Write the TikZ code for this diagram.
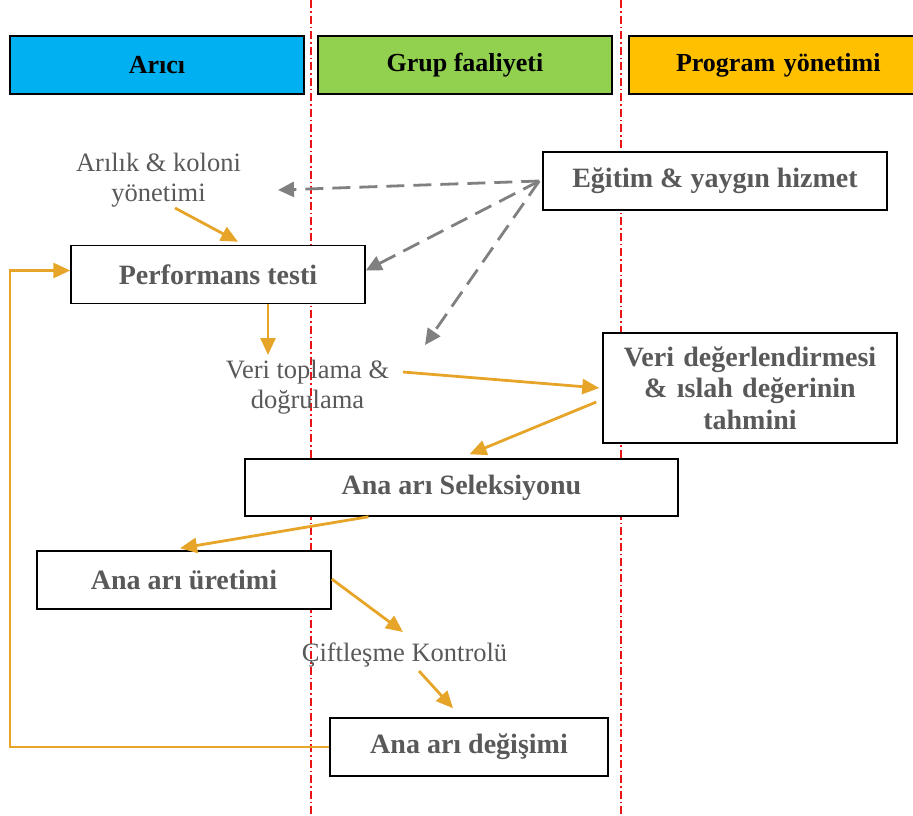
\documentclass[tikz,border=0pt]{standalone}
\usepackage{fontspec}
\setmainfont{Liberation Serif}
\usetikzlibrary{arrows.meta}
\definecolor{txtgray}{HTML}{595959}
\definecolor{arrgold}{RGB}{230,165,40}
\definecolor{dashgray}{HTML}{808080}
\definecolor{hblue}{HTML}{00B0F0}
\definecolor{hgreen}{HTML}{92D050}
\definecolor{horange}{HTML}{FFC000}
\definecolor{lanered}{RGB}{235,20,20}
\tikzset{
  hdr/.style={draw=black, line width=1.5pt, minimum height=58pt, inner sep=0pt,
    font=\fontsize{26}{30}\selectfont\bfseries, text=black},
  box/.style={draw=black, line width=1.5pt, fill=white, minimum height=58pt, inner sep=0pt,
    font=\fontsize{28}{31.5}\selectfont\bfseries, text=txtgray, align=center},
  lbl/.style={font=\fontsize{26.5}{30}\selectfont, text=txtgray, align=center, inner sep=0pt},
  goldarr/.style={draw=arrgold, line width=2.8pt, -{Triangle[length=17pt,width=15pt]}},
  grayarr/.style={draw=dashgray, line width=2.8pt, dash pattern=on 18pt off 9pt,
    -{Triangle[length=16pt,width=15pt]}},
  lane/.style={draw=lanered, line width=1.3pt, dash pattern=on 8pt off 3pt on 1.5pt off 3pt}
}
\begin{document}
\begin{tikzpicture}[x=1pt,y=-1pt]
\useasboundingbox (0,0) rectangle (913,815);
\begin{scope}
\clip (0,0) rectangle (913,815);
% lane separators
\draw[lane] (311,0) -- (311,815);
\draw[lane] (621,0) -- (621,815);
% headers
\node[hdr, fill=hblue, minimum width=294pt] (h1) at (157,65) {Arıcı};
\node[hdr, fill=hgreen, minimum width=294pt] (h2) at (465,65) {Grup faaliyeti};
\node[hdr, fill=horange, minimum width=290pt, text width=290pt, align=left] (h3) at (774,65) {\hspace{47pt}Program yönetimi};
\end{scope}
% boxes
\node[box, minimum width=344pt] (egitim) at (715,181) {Eğitim \& yaygın hizmet};
\node[box, minimum width=294pt] (perf) at (218,274.5) {Performans testi};
\node[box, minimum width=294pt, minimum height=110pt, text width=290pt] (verideg) at (750,388) {Veri değerlendirmesi\\\& ıslah değerinin\\tahmini};
\node[box, minimum width=433pt, minimum height=57pt] (sel) at (461.5,487.5) {Ana arı Seleksiyonu};
\node[box, minimum width=294pt] (uretim) at (184,580) {Ana arı üretimi};
\node[box, minimum width=278pt] (degis) at (469,747) {Ana arı değişimi};
% labels
\node[lbl] (arilik) at (158.5,180) {Arılık \& koloni\\yönetimi};
\node[lbl] (veri) at (307.5,387) {Veri toplama \&\\doğrulama};
\node[lbl] (cift) at (404.5,655) {Çiftleşme Kontrolü};
% free ends
\coordinate (a1s) at (175,208);
\coordinate (g1e) at (278,190);
\coordinate (g3e) at (425,345);
\coordinate (v1e) at (268,355);
\coordinate (v2s) at (403,372);
\coordinate (c1e) at (403,632);
\coordinate (c2s) at (419,671);
\coordinate (loopc) at (10,747);
% gray dashed arrows
\draw[grayarr] ([xshift=-3pt]egitim.west) -- (g1e);
\draw[grayarr] ([xshift=-3pt]egitim.west) -- ([yshift=4pt]perf.east);
\draw[grayarr] ([xshift=-3pt]egitim.west) -- (g3e);
% gold arrows
\draw[goldarr] (a1s) -- ([xshift=20pt,yshift=3pt]perf.north);
\draw[goldarr] ([xshift=50pt]perf.south) -- (v1e);
\draw[goldarr] (v2s) -- ([xshift=-3pt]verideg.west);
\draw[goldarr] ([xshift=-6pt,yshift=-14pt]verideg.west) -- ([xshift=8pt,yshift=4pt]sel.north);
\draw[goldarr] ([xshift=-93pt]sel.south) -- ([xshift=-4pt,yshift=2pt]uretim.north);
\draw[goldarr] ([yshift=1pt]uretim.east) -- (c1e);
\draw[goldarr] (c2s) -- ([xshift=-16pt,yshift=9pt]degis.north);
\draw[goldarr] (degis.west) -- (loopc) |- ([yshift=4pt]perf.west);
\end{tikzpicture}
\end{document}
